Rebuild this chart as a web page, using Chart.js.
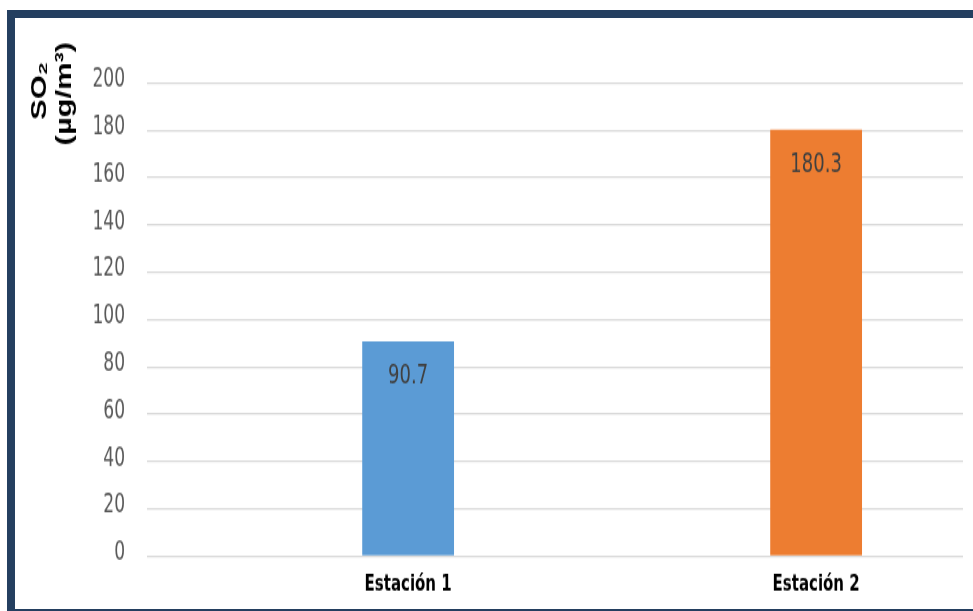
<!DOCTYPE html>
<html>
<head>
<meta charset="utf-8">
<script src="https://cdn.jsdelivr.net/npm/chart.js@4"></script>
<style>
  body { margin: 0; background: #fff; }
  #frame {
    position: absolute; left: 7px; top: 10px;
    width: 958px; height: 591px;
    border-top: 8px solid #243f60;
    border-left: 8px solid #243f60;
    border-bottom: 2px solid #243f60;
    overflow: hidden;
  }
  /* the original picture is stretched tall, so the chart is drawn short and stretched */
  canvas { display: block; transform: scaleY(1.4); transform-origin: 0 0; }
</style>
</head>
<body>
<div id="frame"><canvas id="so2chart" width="958" height="422"></canvas></div>
<script>
const stations = ['Estación 1', 'Estación 2'];
const so2Values = [90.7, 180.3];
const barColors = ['#5b9bd5', '#ed7d31'];
const yTicks = [0, 20, 40, 60, 80, 100, 120, 140, 160, 180, 200];

const narrow = '"DejaVu Sans Condensed", "Liberation Sans Narrow", sans-serif';

// value labels inside top of each bar
const valueLabels = {
    id: 'valueLabels',
    afterDatasetsDraw(chart) {
        const ctx = chart.ctx;
        const meta = chart.getDatasetMeta(0);
        ctx.save();
        ctx.font = '20px ' + narrow;
        ctx.fillStyle = '#404040';
        ctx.textAlign = 'center';
        ctx.textBaseline = 'middle';
        meta.data.forEach((bar, i) => {
            ctx.fillText(so2Values[i].toFixed(1), bar.x, bar.y + 25);
        });
        ctx.restore();
    }
};

// y axis title, sits above the axis like the original
const yTitle = {
    id: 'yTitle',
    afterDraw(chart) {
        const ctx = chart.ctx;
        ctx.save();
        ctx.font = 'bold 22px "Liberation Sans", Arial, sans-serif';
        ctx.fillStyle = '#000';
        ctx.textAlign = 'center';
        ctx.textBaseline = 'middle';
        ctx.translate(25, 52);
        ctx.rotate(-Math.PI / 2);
        ctx.fillText('SO₂', 0, 0);
        ctx.restore();
        ctx.save();
        ctx.font = 'bold 22px "Liberation Sans", Arial, sans-serif';
        ctx.fillStyle = '#000';
        ctx.textAlign = 'center';
        ctx.textBaseline = 'middle';
        ctx.translate(50, 54);
        ctx.rotate(-Math.PI / 2);
        ctx.fillText('(µg/m³)', 0, 0);
        ctx.restore();
    }
};

const ctx = document.getElementById('so2chart');
const myChart = new Chart(ctx, {
    type: 'bar',
    data: {
        datasets: [{
            data: so2Values.map((v, i) => ({ x: i + 1, y: v })),
            backgroundColor: barColors,
            borderWidth: 0,
            categoryPercentage: 1,
            barPercentage: 0.225
        }]
    },
    options: {
        responsive: false,
        animation: false,
        layout: { padding: { top: 46.4, right: 10, bottom: 0, left: 0 } },
        plugins: {
            legend: { display: false },
            tooltip: { enabled: false }
        },
        scales: {
            x: {
                type: 'linear',
                offset: false,
                min: 0.36,
                max: 2.36,
                afterBuildTicks: scale => { scale.ticks = stations.map((s, i) => ({ value: i + 1 })); },
                afterFit: scale => { scale.height = 37.7; },
                grid: { display: false, drawTicks: false },
                border: { display: false },
                ticks: {
                    padding: 10,
                    color: '#000',
                    font: { family: narrow, size: 16.7, weight: 'bold' },
                    callback: value => stations[Math.round(value) - 1]
                }
            },
            y: {
                min: 0,
                max: 200,
                afterBuildTicks: scale => { scale.ticks = yTicks.map(v => ({ value: v })); },
                afterFit: scale => { scale.width = 132; },
                grid: { color: '#d9d9d9', lineWidth: 1.2, drawTicks: false },
                border: { display: false },
                ticks: {
                    padding: 22,
                    labelOffset: -2,
                    color: '#595959',
                    font: { family: narrow, size: 19 }
                }
            }
        }
    },
    plugins: [valueLabels, yTitle]
});
</script>
</body>
</html>
